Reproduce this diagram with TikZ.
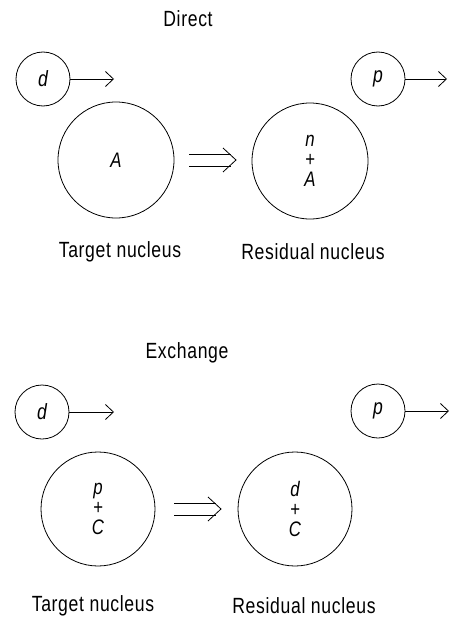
\documentclass[tikz,border=0pt]{standalone}
\usepackage{fontspec}
\setmainfont[FakeStretch=0.8,LetterSpace=3]{Liberation Sans}
\usetikzlibrary{arrows.meta}
\begin{document}
\begin{tikzpicture}[x=1pt,y=-1pt,
  particle/.style={circle,draw,line width=0.8pt,minimum size=54pt,inner sep=0pt,
    font=\fontsize{22}{22}\selectfont\itshape},
  nucleus/.style={circle,draw,line width=0.8pt,inner sep=0pt,align=center,
    font=\fontsize{21}{20}\selectfont\itshape},
  caption/.style={font=\fontsize{22}{24}\selectfont},
  motion/.style={line width=0.8pt,-{Straight Barb[length=8pt,width=15pt,line width=0.8pt]}},
  bigimplies/.pic={
    \draw[line width=0.8pt] (-24,-6) -- (18,-6) (-24,6) -- (18,6);
    \draw[line width=0.8pt] (10,-12) -- (23,0) -- (10,12);
  }
]
\useasboundingbox (0,0) rectangle (454,618);

% ---- direct reaction ----
\node[caption] (titleD) at (188,19) {Direct};
\node[particle] (dD) at (43,79) {d};
\coordinate (dDtip) at (114,79);
\draw[motion] (dD) -- (dDtip);
\node[particle] (pD) at (378,79) {p};
\coordinate (pDtip) at (447,79);
\draw[motion] (pD) -- (pDtip);
\node[nucleus,minimum size=116pt] (targetD) at (116,160) {A};
\node[nucleus,minimum size=116pt] (residD) at (310,161) {n\\+\\A};
\pic at (213,160) {bigimplies};
\node[caption] (capTD) at (120,252) {Target nucleus};
\node[caption] (capRD) at (313,252) {Residual nucleus};

% ---- exchange reaction ----
\node[caption] (titleE) at (187,353) {Exchange};
\node[particle] (dE) at (42,412) {d};
\coordinate (dEtip) at (114,412);
\draw[motion] (dE) -- (dEtip);
\node[particle] (pE) at (378,411) {p};
\coordinate (pEtip) at (449,411);
\draw[motion] (pE) -- (pEtip);
\node[nucleus,minimum size=114pt] (targetE) at (98,509) {p\\+\\C};
\node[nucleus,minimum size=114pt] (residE) at (295,509) {d\\+\\C};
\pic at (198,509) {bigimplies};
\node[caption] (capTE) at (93,606) {Target nucleus};
\node[caption] (capRE) at (304,606) {Residual nucleus};
\end{tikzpicture}
\end{document}
